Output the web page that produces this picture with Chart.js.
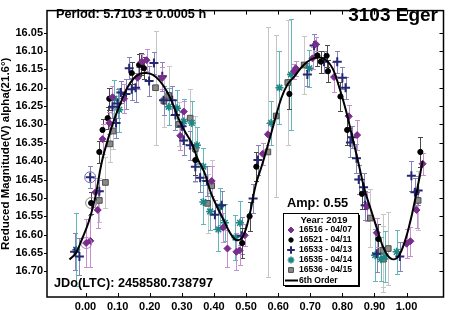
<!DOCTYPE html>
<html>
<head>
<meta charset="utf-8">
<script src="https://cdn.jsdelivr.net/npm/chart.js@4.4.1/dist/chart.umd.min.js"></script>
<style>
  html, body { margin: 0; padding: 0; background: #fff; }
</style>
</head>
<body>
<canvas id="chart" width="450" height="310"></canvas>
<script>
// axes
const xTicks = [0.0, 0.1, 0.2, 0.3, 0.4, 0.5, 0.6, 0.7, 0.8, 0.9, 1.0];
const yTicks = [16.05, 16.10, 16.15, 16.20, 16.25, 16.30, 16.35, 16.40, 16.45, 16.50, 16.55, 16.60, 16.65, 16.70];

// 16516 - 04/07
const phase16516 = [0.002, 0.015, 0.031, 0.038, 0.053, 0.074, 0.084, 0.120, 0.162, 0.175, 0.190, 0.239, 0.295, 0.306, 0.393, 0.429, 0.442, 0.470, 0.480, 0.496, 0.552, 0.568, 0.650, 0.655, 0.707, 0.717, 0.774, 0.820, 0.846, 0.877, 0.907, 1.000, 1.012, 1.031, 1.050];
const mag16516 = [16.623, 16.617, 16.485, 16.533, 16.340, 16.296, 16.226, 16.230, 16.173, 16.129, 16.125, 16.173, 16.331, 16.265, 16.454, 16.581, 16.638, 16.647, 16.643, 16.602, 16.380, 16.327, 16.155, 16.147, 16.120, 16.081, 16.171, 16.278, 16.329, 16.524, 16.595, 16.625, 16.618, 16.533, 16.407];
const err16516 = [0.065, 0.07, 0.04, 0.05, 0.04, 0.03, 0.03, 0.04, 0.03, 0.02, 0.03, 0.03, 0.04, 0.03, 0.04, 0.04, 0.05, 0.05, 0.04, 0.03, 0.03, 0.03, 0.02, 0.02, 0.03, 0.02, 0.04, 0.03, 0.04, 0.04, 0.04, 0.04, 0.04, 0.05, 0.03];

// 16521 - 04/11
const phase16521 = [0.0175, 0.043, 0.053, 0.069, 0.074, 0.144, 0.167, 0.172, 0.182, 0.342, 0.488, 0.511, 0.532, 0.635, 0.722, 0.733, 0.751, 0.755, 0.794, 0.815, 0.861, 0.912, 1.043];
const mag16521 = [16.514, 16.375, 16.315, 16.283, 16.230, 16.160, 16.138, 16.136, 16.147, 16.397, 16.623, 16.550, 16.415, 16.217, 16.112, 16.129, 16.113, 16.155, 16.224, 16.315, 16.489, 16.612, 16.375];
const err16521 = [0.03, 0.03, 0.03, 0.03, 0.03, 0.03, 0.03, 0.03, 0.03, 0.04, 0.04, 0.04, 0.04, 0.04, 0.03, 0.03, 0.03, 0.03, 0.04, 0.04, 0.04, 0.04, 0.04];

// 16533 - 04/13
const phase16533 = [-0.034, -0.019, 0.0145, 0.043, 0.084, 0.095, 0.100, 0.110, 0.126, 0.136, 0.144, 0.156, 0.198, 0.213, 0.239, 0.243, 0.270, 0.280, 0.300, 0.306, 0.326, 0.342, 0.357, 0.378, 0.403, 0.424, 0.486, 0.522, 0.537, 0.691, 0.712, 0.743, 0.784, 0.800, 0.810, 0.825, 0.830, 0.844, 0.851, 0.866, 0.871, 0.907, 0.979, 1.015, 1.026, 1.036];
const mag16533 = [16.647, 16.660, 16.444, 16.482, 16.252, 16.296, 16.243, 16.213, 16.217, 16.147, 16.204, 16.200, 16.182, 16.133, 16.169, 16.234, 16.234, 16.274, 16.305, 16.344, 16.357, 16.415, 16.445, 16.454, 16.546, 16.520, 16.603, 16.502, 16.397, 16.164, 16.085, 16.129, 16.129, 16.173, 16.200, 16.349, 16.335, 16.392, 16.450, 16.471, 16.520, 16.652, 16.660, 16.440, 16.485, 16.480];
const err16533 = [0.05, 0.05, 0.03, 0.03, 0.03, 0.04, 0.04, 0.03, 0.04, 0.03, 0.03, 0.04, 0.04, 0.03, 0.04, 0.04, 0.04, 0.04, 0.04, 0.04, 0.04, 0.04, 0.04, 0.04, 0.04, 0.04, 0.05, 0.04, 0.04, 0.03, 0.03, 0.03, 0.03, 0.03, 0.03, 0.04, 0.03, 0.04, 0.04, 0.04, 0.04, 0.05, 0.04, 0.04, 0.04, 0.04];

// 16535 - 04/14
const phase16535 = [-0.029, 0.090, 0.105, 0.259, 0.285, 0.306, 0.331, 0.347, 0.367, 0.367, 0.388, 0.414, 0.419, 0.434, 0.467, 0.481, 0.578, 0.604, 0.640, 0.697, 0.902, 0.920, 0.933, 0.969];
const mag16535 = [16.641, 16.230, 16.260, 16.252, 16.256, 16.292, 16.296, 16.357, 16.415, 16.511, 16.537, 16.586, 16.524, 16.568, 16.608, 16.568, 16.296, 16.200, 16.164, 16.147, 16.656, 16.667, 16.660, 16.647];
const err16535 = [0.10, 0.05, 0.06, 0.05, 0.05, 0.06, 0.06, 0.05, 0.05, 0.06, 0.05, 0.06, 0.05, 0.05, 0.06, 0.06, 0.06, 0.10, 0.15, 0.05, 0.07, 0.06, 0.07, 0.06];

// 16536 - 04/15
const phase16536 = [0.043, 0.062, 0.076, 0.086, 0.218, 0.244, 0.259, 0.290, 0.326, 0.342, 0.380, 0.393, 0.568, 0.594, 0.630, 0.681, 0.887, 0.926, 0.928, 0.943, 1.036];
const mag16536 = [16.507, 16.458, 16.353, 16.318, 16.200, 16.236, 16.221, 16.300, 16.283, 16.366, 16.515, 16.467, 16.375, 16.277, 16.186, 16.138, 16.555, 16.643, 16.667, 16.638, 16.507];
const err16536 = [0.06, 0.07, 0.05, 0.05, 0.155, 0.07, 0.08, 0.06, 0.08, 0.09, 0.08, 0.07, 0.34, 0.22, 0.17, 0.08, 0.08, 0.10, 0.09, 0.10, 0.08];

// circled (flagged) observations
const ringPhase = [0.0145, 0.0175, 0.002];
const ringMag = [16.444, 16.514, 16.623];
const ringColor = ['#6a6ab0', '#8a8a8a', '#b07ab8'];

// 6th order fit
const fitPhase = [-0.05, -0.03, -0.01, 0.01, 0.03, 0.05, 0.07, 0.09, 0.11, 0.13, 0.15, 0.17, 0.19, 0.21, 0.23, 0.25, 0.27, 0.29, 0.31, 0.33, 0.35, 0.37, 0.39, 0.41, 0.43, 0.45, 0.47, 0.49, 0.51, 0.53, 0.55, 0.57, 0.59, 0.61, 0.63, 0.65, 0.67, 0.69, 0.71, 0.73, 0.75, 0.77, 0.79, 0.81, 0.83, 0.85, 0.87, 0.89, 0.91, 0.93, 0.95, 0.97, 0.99, 1.01, 1.03, 1.05];
const fitMag = [16.668, 16.650, 16.610, 16.565, 16.500, 16.405, 16.340, 16.285, 16.240, 16.200, 16.175, 16.162, 16.160, 16.165, 16.180, 16.205, 16.240, 16.285, 16.320, 16.350, 16.395, 16.430, 16.485, 16.525, 16.560, 16.595, 16.615, 16.605, 16.550, 16.465, 16.410, 16.350, 16.287, 16.228, 16.190, 16.170, 16.147, 16.130, 16.120, 16.118, 16.125, 16.148, 16.198, 16.258, 16.330, 16.405, 16.480, 16.535, 16.590, 16.640, 16.665, 16.664, 16.630, 16.570, 16.490, 16.400];

const FONT = "'Liberation Sans', Arial, sans-serif";

function pts(xs, ys) {
  return xs.map((x, i) => ({ x: x, y: ys[i] }));
}

// error bars drawn under the markers
const errorBars = {
  id: 'errorBars',
  beforeDatasetsDraw(chart) {
    const ctx = chart.ctx;
    const xs = chart.scales.x, ys = chart.scales.y;
    const a = chart.chartArea;
    ctx.save();
    ctx.beginPath();
    ctx.rect(a.left, a.top, a.right - a.left, a.bottom - a.top);
    ctx.clip();
    ctx.lineWidth = 1;
    // last series first, so the first one ends up on top
    for (let d = chart.data.datasets.length - 1; d >= 0; d--) {
      const ds = chart.data.datasets[d];
      if (!ds.errors) continue;
      ctx.strokeStyle = ds.errorColor;
      ds.data.forEach((p, i) => {
        const px = Math.round(xs.getPixelForValue(p.x)) + 0.5;
        const y1 = Math.round(ys.getPixelForValue(p.y - ds.errors[i])) + 0.5;
        const y2 = Math.round(ys.getPixelForValue(p.y + ds.errors[i])) + 0.5;
        ctx.beginPath();
        ctx.moveTo(px, y1); ctx.lineTo(px, y2);
        ctx.moveTo(px - 2.5, y1); ctx.lineTo(px + 2.5, y1);
        ctx.moveTo(px - 2.5, y2); ctx.lineTo(px + 2.5, y2);
        ctx.stroke();
      });
    }
    ctx.restore();
  }
};

// frame, inward ticks, notes and legend box
const frameAndNotes = {
  id: 'frameAndNotes',
  afterDraw(chart) {
    const ctx = chart.ctx;
    const a = chart.chartArea;
    const xs = chart.scales.x, ys = chart.scales.y;
    ctx.save();
    ctx.strokeStyle = '#000';
    ctx.lineWidth = 1.5;
    ctx.strokeRect(a.left, a.top, a.right - a.left, a.bottom - a.top);
    ctx.lineWidth = 1;
    ctx.beginPath();
    xTicks.forEach(v => {
      const px = Math.round(xs.getPixelForValue(v)) + 0.5;
      ctx.moveTo(px, a.bottom); ctx.lineTo(px, a.bottom - 4);
      ctx.moveTo(px, a.top); ctx.lineTo(px, a.top + 4);
    });
    yTicks.forEach(v => {
      const py = Math.round(ys.getPixelForValue(v)) + 0.5;
      ctx.moveTo(a.left - 3, py); ctx.lineTo(a.left, py);
      ctx.moveTo(a.right, py); ctx.lineTo(a.right - 4, py);
    });
    ctx.stroke();

    ctx.fillStyle = '#000';
    ctx.textBaseline = 'middle';
    ctx.textAlign = 'left';
    ctx.font = 'bold 12.7px ' + FONT;
    ctx.fillText('Period: 5.7103 \u00b1 0.0005 h', 56, 14);
    ctx.fillText('JDo(LTC): 2458580.738797', 54, 283);
    ctx.font = 'bold 12.8px ' + FONT;
    ctx.fillText('Amp: 0.55', 287, 203);
    ctx.textAlign = 'right';
    ctx.font = 'bold 19px ' + FONT;
    ctx.fillText('3103 Eger', 438, 16);

    // legend box with a drop shadow
    const bx = 283, by = 213, bw = 75, bh = 72;
    ctx.fillStyle = '#000';
    ctx.fillRect(bx + 2, by + 2, bw, bh);
    ctx.fillStyle = '#fff';
    ctx.fillRect(bx, by, bw, bh);
    ctx.strokeStyle = '#000';
    ctx.lineWidth = 1;
    ctx.strokeRect(bx + 0.5, by + 0.5, bw, bh);

    ctx.fillStyle = '#000';
    ctx.textAlign = 'center';
    ctx.font = 'bold 9.5px ' + FONT;
    ctx.fillText('Year: 2019', 324, 220);
    ctx.textAlign = 'left';
    ctx.font = 'bold 8.6px ' + FONT;
    const rowY = [230, 240, 250, 260, 270, 280.5];
    const sets = chart.data.datasets.filter(ds => ds.errors);
    sets.forEach((ds, i) => {
      ctx.fillStyle = '#000';
      ctx.fillText(ds.label, 299, rowY[i]);
      ctx.fillStyle = ds.backgroundColor;
      ctx.strokeStyle = ds.borderColor;
      ctx.lineWidth = ds.borderWidth;
      Chart.helpers.drawPoint(ctx, {
        pointStyle: ds.pointStyle,
        radius: ds.pointRadius * 0.85,
        borderWidth: ds.borderWidth,
        rotation: 0
      }, 291, rowY[i]);
    });
    ctx.fillStyle = '#000';
    ctx.fillText('6th Order', 299, rowY[5]);
    ctx.strokeStyle = '#000';
    ctx.lineWidth = 2;
    ctx.beginPath();
    ctx.moveTo(285, rowY[5]); ctx.lineTo(298, rowY[5]);
    ctx.stroke();
    ctx.restore();
  }
};

const ctx = document.getElementById('chart').getContext('2d');
new Chart(ctx, {
  type: 'scatter',
  data: {
    datasets: [
      {
        label: '6th Order',
        type: 'line',
        data: pts(fitPhase, fitMag),
        borderColor: '#000',
        borderWidth: 2,
        pointRadius: 0,
        tension: 0.4,
        fill: false
      },
      {
        label: 'flagged',
        data: pts(ringPhase, ringMag),
        pointStyle: 'circle',
        pointRadius: 5.5,
        backgroundColor: 'rgba(0,0,0,0)',
        borderColor: ringColor,
        borderWidth: 1
      },
      {
        label: '16516 - 04/07',
        data: pts(phase16516, mag16516),
        errors: err16516,
        errorColor: '#c68fd0',
        pointStyle: 'rectRot',
        pointRadius: 3.5,
        backgroundColor: '#7a2c8c',
        borderColor: '#7a2c8c',
        borderWidth: 1
      },
      {
        label: '16521 - 04/11',
        data: pts(phase16521, mag16521),
        errors: err16521,
        errorColor: '#4a4a4a',
        pointStyle: 'circle',
        pointRadius: 2.6,
        backgroundColor: '#000',
        borderColor: '#000',
        borderWidth: 1
      },
      {
        label: '16533 - 04/13',
        data: pts(phase16533, mag16533),
        errors: err16533,
        errorColor: '#8484bc',
        pointStyle: 'cross',
        pointRadius: 4.5,
        backgroundColor: '#262673',
        borderColor: '#262673',
        borderWidth: 2
      },
      {
        label: '16535 - 04/14',
        data: pts(phase16535, mag16535),
        errors: err16535,
        errorColor: '#62b8b8',
        pointStyle: 'star',
        pointRadius: 4,
        backgroundColor: '#1e8585',
        borderColor: '#1e8585',
        borderWidth: 1.5
      },
      {
        label: '16536 - 04/15',
        data: pts(phase16536, mag16536),
        errors: err16536,
        errorColor: '#c6c6c6',
        pointStyle: 'rect',
        pointRadius: 4,
        backgroundColor: '#8a8a8a',
        borderColor: '#4d4d4d',
        borderWidth: 1
      }
    ]
  },
  options: {
    responsive: false,
    animation: false,
    devicePixelRatio: 1,
    layout: { padding: { top: 1, right: 3, left: 0, bottom: 0 } },
    plugins: {
      legend: { display: false },
      tooltip: { enabled: false }
    },
    scales: {
      x: {
        type: 'linear',
        min: -0.12,
        max: 1.115,
        grid: { display: false, drawTicks: false },
        border: { display: false },
        afterBuildTicks: axis => { axis.ticks = xTicks.map(v => ({ value: v })); },
        afterFit: axis => { axis.height = 13; },
        ticks: {
          padding: 3,
          color: '#000',
          font: { family: FONT, size: 11, weight: 'bold' },
          maxRotation: 0,
          autoSkip: false,
          callback: v => v.toFixed(2)
        }
      },
      y: {
        type: 'linear',
        reverse: true,
        min: 15.99,
        max: 16.77,
        grid: { display: false, drawTicks: false },
        border: { display: false },
        afterBuildTicks: axis => { axis.ticks = yTicks.map(v => ({ value: v })); },
        afterFit: axis => { axis.width = 47; },
        ticks: {
          padding: 4,
          color: '#000',
          font: { family: FONT, size: 11, weight: 'bold' },
          autoSkip: false,
          callback: v => v.toFixed(2)
        },
        title: {
          display: true,
          text: 'Reduced Magnitude(V) alpha(21.6\u00b0)',
          color: '#000',
          padding: 0,
          font: { family: FONT, size: 11.5, weight: 'bold', lineHeight: 1 }
        }
      }
    }
  },
  plugins: [errorBars, frameAndNotes]
});
</script>
</body>
</html>
